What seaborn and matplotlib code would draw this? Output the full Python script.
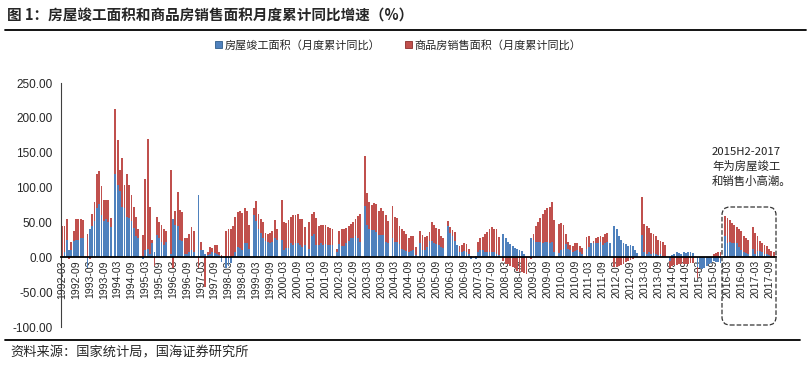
import numpy as np
import pandas as pd
import seaborn as sns
import matplotlib.pyplot as plt
from matplotlib.patches import Patch, FancyBboxPatch
from matplotlib.lines import Line2D
from matplotlib.transforms import IdentityTransform

sns.set_style("white")
plt.rcParams['font.family'] = ['Noto Sans CJK SC', 'DejaVu Sans']

# 月度累计同比（%），每年 2-12 月（1992 年从 3 月开始，2017 年到 11 月）
sales = [
    45, 45, 55, -3, 22, 38, 55, 55, 55, 53,                      # 1992
    34, -3, 62, 80, 120, 124, 102, 82, 82, 82, 57,               # 1993
    212, 168, 125, 143, 104, 120, 104, 89, 72, 58, 40,           # 1994
    32, 112, 170, 72, 25, -12, 58, 50, 47, 40, 37,               # 1995
    125, -15, 67, 93, 68, 65, 28, 28, 34, 44, 38,                # 1996
    -15, 22, 5, -43, 8, 15, 13, 17, 17, 7, 3,                    # 1997
    38, 40, 41, 45, 58, 65, 67, 64, 71, 67, 47,                  # 1998
    70, 81, 62, 55, 50, 35, 33, 35, 38, 53, 40,                  # 1999
    82, 50, 49, 54, 58, 60, 61, 62, 55, 55, 44,                  # 2000
    51, 62, 65, 56, 45, 46, 47, 46, 43, 42, 41,                  # 2001
    12, 38, 40, 40, 42, 45, 48, 51, 55, 59, 62,                  # 2002
    145, 92, 80, 75, 78, 76, 66, 71, 67, 60, 52,                 # 2003
    73, 58, 57, 45, 40, 37, 33, 28, 30, 30, 15,                  # 2004
    38, 32, 29, 30, 36, 50, 47, 42, 40, 30, 28,                  # 2005
    52, 44, 39, 36, 18, 16, 18, 20, 19, 12, 2,                   # 2006
    2, 22, 27, 29, 33, 36, 41, 44, 40, 40, 29,                   # 2007
    -5, -10, -9, -12, -14, -16, -19, -21, -21, -23, -24,         # 2008
    -2, 34, 45, 50, 56, 62, 68, 70, 72, 80, 54,                  # 2009
    48, 49, 47, 34, 22, 18, 16, 20, 20, 16, 14,                  # 2010
    29, 30, 20, 24, 28, 29, 30, 29, 33, 35, 20,                  # 2011
    -14, -14, -13, -11, -9, -7, -5, -4, -2, 0, 2,                # 2012
    86, 48, 45, 42, 35, 33, 30, 25, 24, 22, 17,                  # 2013
    -15, -12, -11, -11, -10, -10, -10, -9, -9, -8, -8,           # 2014
    -30, -12, -10, -8, -6, -4, -2, 4, 6, 7, 7,                   # 2015
    59, 56, 54, 49, 46, 44, 40, 37, 31, 28, 25,                  # 2016
    43, 35, 30, 24, 20, 17, 16, 12, 9, 8,                        # 2017
]
completion = [
    0, 8, 25, 10, 10, 23, 25, 25, 27, 28,                        # 1992
    -15, 40, 45, 52, 70, 76, 60, 52, 55, 50, 44,                 # 1993
    120, 104, 95, 72, 70, 58, 57, 52, 42, 30, 28,                # 1994
    -3, 10, 12, 5, 20, 8, 32, 27, 22, 18, 22,                    # 1995
    5, 55, 46, 45, 25, 24, 4, 5, 8, 11, 8,                       # 1996
    90, 10, 10, 5, 3, 5, 8, 6, 5, 3, -7,                         # 1997
    -15, -13, -8, 2, 8, 15, 13, 10, 20, 20, 12,                  # 1998
    60, 52, 40, 35, 27, 23, 22, 20, 22, 27, 25,                  # 1999
    25, 10, 13, 14, 21, 18, 21, 20, 18, 15, 17,                  # 2000
    12, 30, 34, 17, 18, 20, 18, 19, 17, 17, 17,                  # 2001
    8, 19, 16, 16, 21, 24, 28, 28, 30, 28, 22,                   # 2002
    74, 46, 40, 39, 39, 36, 32, 32, 32, 22, 20,                  # 2003
    28, 22, 22, 19, 12, 11, 9, 8, 9, 10, 3,                      # 2004
    21, 11, 11, 15, 23, 24, 20, 19, 17, 15, 14,                  # 2005
    45, 35, 30, 24, 18, 8, 8, 9, 8, 5, -3,                       # 2006
    -3, 8, 10, 10, 8, 8, 8, 7, 8, 5, 3,                          # 2007
    34, 28, 22, 19, 16, 14, 12, 10, 9, 5, 0,                     # 2008
    28, 25, 22, 22, 22, 21, 22, 22, 21, 22, 8,                   # 2009
    6, 10, 12, 19, 12, 10, 8, 9, 10, 8, 5,                       # 2010
    12, 15, 20, 20, 20, 21, 22, 17, 20, 22, 20,                  # 2011
    45, 41, 30, 25, 21, 19, 16, 18, 16, 10, 6,                   # 2012
    32, 7, 5, 7, 5, 6, 4, 3, 4, 2, 2,                            # 2013
    -5, 3, 4, 8, 6, 4, 7, 6, 8, 7, 6,                            # 2014
    -14, -15, -17, -16, -12, -10, -8, -6, -7, -7, -8,            # 2015
    30, 20, 22, 21, 21, 20, 15, 11, 8, 6, 5,                     # 2016
    12, 5, 9, 9, 8, 5, 4, 3, 1, 1,                               # 2017
]
months = [(y, m) for y in range(1992, 2018) for m in range(2, 13)
          if not (y == 1992 and m == 2) and not (y == 2017 and m == 12)]

label_sales = "商品房销售面积（月度累计同比）"
label_comp = "房屋竣工面积（月度累计同比）"
red = "#C0504D"
blue = "#4F81BD"

df = pd.DataFrame({
    "pos": [(y - 1992) * 12 + m - 3 for y, m in months],
    "sales": sales,
    "completion": completion,
})

fig = plt.figure(figsize=(8.11, 3.65), dpi=100)
ax = fig.add_axes([61 / 811, 1 - 327 / 365, 715 / 811, 244 / 365])

sns.barplot(data=df, x="pos", y="sales", native_scale=True, color=red,
            saturation=1, width=0.8, errorbar=None, ax=ax, linewidth=0)
sns.barplot(data=df, x="pos", y="completion", native_scale=True, color=blue,
            saturation=1, width=0.8, errorbar=None, ax=ax, linewidth=0)

# spines first: moving a spine resets the tick labels
for s in ["top", "right"]:
    ax.spines[s].set_visible(False)
ax.spines["bottom"].set_position(("data", 0))
ax.spines["bottom"].set_color("black")
ax.spines["bottom"].set_linewidth(1.3)
ax.spines["bottom"].set_zorder(5)
ax.spines["left"].set_color("#404040")
ax.spines["left"].set_linewidth(0.8)
ax.grid(False)

ax.set_xlim(-0.5, 309)
ax.set_ylim(-100, 250)
ax.set_xlabel("")
ax.set_ylabel("")
ax.set_yticks(np.arange(-100, 251, 50))
ax.set_yticklabels([f"{v:.2f}" for v in np.arange(-100, 251, 50)],
                   family="Liberation Sans", fontsize=8.5)

tick_pos = [(y - 1992) * 12 + m - 3 for y in range(1992, 2018) for m in (3, 9)]
tick_lab = [f"{y}-{m:02d}" for y in range(1992, 2018) for m in (3, 9)]
ax.set_xticks(tick_pos)
ax.set_xticklabels(tick_lab, rotation=90, family="Liberation Sans", fontsize=7.5)
ax.tick_params(axis="x", direction="in", length=3, width=1, color="black", pad=2)
ax.tick_params(axis="y", direction="out", length=3, width=0.8, color="#404040", pad=3)

handles = [Patch(facecolor=blue, edgecolor="#2E5C8A", linewidth=0.6),
           Patch(facecolor=red, edgecolor="#8C2D2A", linewidth=0.6)]
fig.legend(handles, [label_comp, label_sales], loc="center",
           bbox_to_anchor=(398 / 811, 1 - 45 / 365), ncol=2, frameon=False,
           fontsize=8, handlelength=0.65, handleheight=0.65, handletextpad=0.2,
           columnspacing=2.2)

fig.text(7 / 811, 1 - 16 / 365, "图 1：房屋竣工面积和商品房销售面积月度累计同比增速（%）",
         fontsize=10.5, fontweight="bold", va="center", ha="left")
fig.add_artist(Line2D([5 / 811, 806 / 811], [1 - 30 / 365] * 2, color="black", lw=1.3))
fig.add_artist(Line2D([5 / 811, 800 / 811], [1 - 340 / 365] * 2, color="black", lw=1.3))
fig.text(10 / 811, 1 - 353 / 365, "资料来源：国家统计局，国海证券研究所",
         fontsize=9.5, va="center", ha="left")

fig.text(712 / 811, 1 - 147 / 365, "2015H2-2017\n年为房屋竣工\n和销售小高潮。",
         fontsize=8.2, va="top", ha="left", color="#222222", linespacing=1.4,
         family=["Liberation Sans Narrow", "Noto Sans CJK SC", "DejaVu Sans"])
box = FancyBboxPatch((722, 365 - 325), 54, 118, boxstyle="round,pad=0,rounding_size=8",
                     fill=False, linestyle="--", linewidth=0.9, edgecolor="#333333",
                     transform=IdentityTransform())
fig.add_artist(box)

fig.savefig("out.png", dpi=100)
